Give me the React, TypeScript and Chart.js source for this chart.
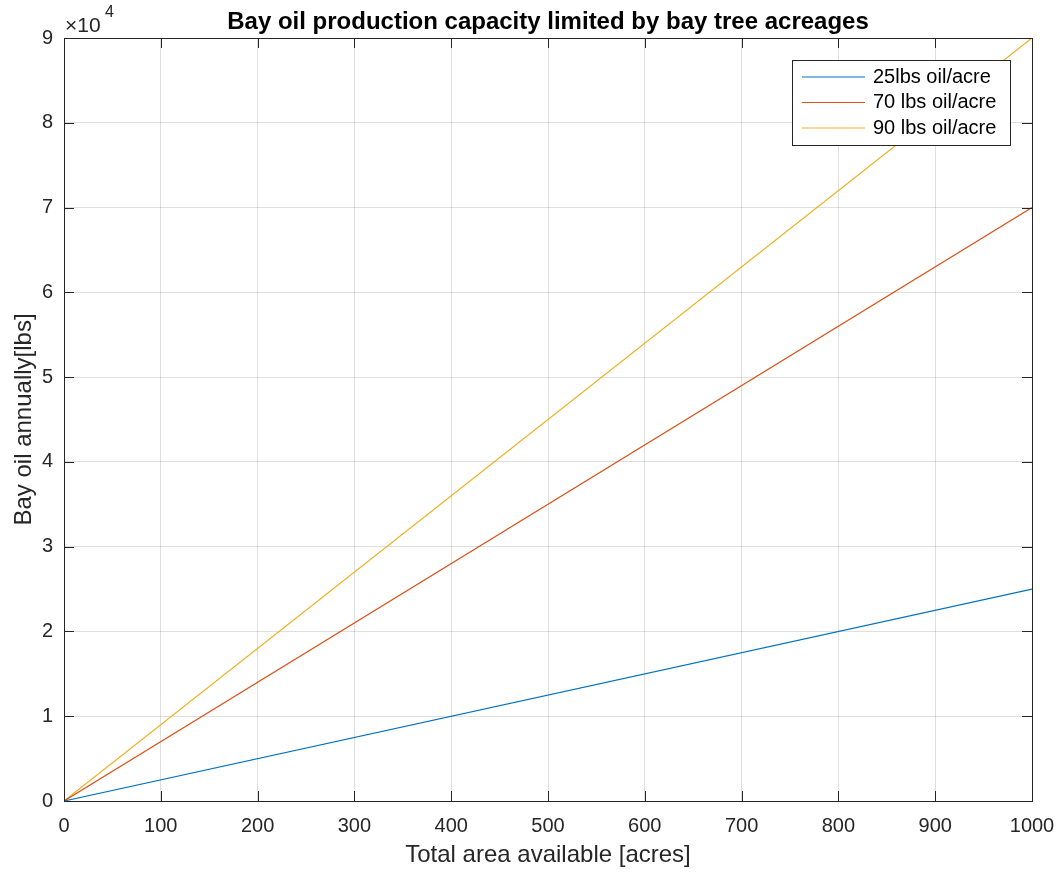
import React, { useEffect, useRef } from "react";
import { Chart, registerables } from "chart.js";

Chart.register(...registerables);

const areaAcres = [0, 1000];
const oil25 = [0, 25000];
const oil70 = [0, 70000];
const oil90 = [0, 90000];
const seriesLabels = ["25lbs oil/acre", "70 lbs oil/acre", "90 lbs oil/acre"];
const seriesColors = ["#0072BD", "#D95319", "#EDB120"];
const titleText = "Bay oil production capacity limited by bay tree acreages";
const xTitle = "Total area available [acres]";
const yTitle = "Bay oil annually[lbs]";

const FONT = '"Liberation Sans", Helvetica, Arial, sans-serif';
const AX = "#262626";

const decorPlugin = {
  id: "decor",
  afterDraw(chart: any) {
    const ctx = chart.ctx as CanvasRenderingContext2D;
    const { left, right, top, bottom } = chart.chartArea;
    const xs = chart.scales.x;
    const ys = chart.scales.y;
    ctx.save();
    // box
    ctx.strokeStyle = AX;
    ctx.lineWidth = 1;
    ctx.strokeRect(Math.round(left) + 0.5, Math.round(top) + 0.5, Math.round(right - left), Math.round(bottom - top));
    // inward ticks
    const tl = 10;
    ctx.beginPath();
    xs.ticks.forEach((t: any) => {
      const px = Math.round(xs.getPixelForValue(t.value)) + 0.5;
      ctx.moveTo(px, bottom);
      ctx.lineTo(px, bottom - tl);
      ctx.moveTo(px, top);
      ctx.lineTo(px, top + tl);
    });
    ys.ticks.forEach((t: any) => {
      const py = Math.round(ys.getPixelForValue(t.value)) + 0.5;
      ctx.moveTo(left, py);
      ctx.lineTo(left + tl, py);
      ctx.moveTo(right, py);
      ctx.lineTo(right - tl, py);
    });
    ctx.stroke();

    // title
    ctx.fillStyle = "#000";
    ctx.font = `bold 24px ${FONT}`;
    ctx.textAlign = "center";
    ctx.textBaseline = "alphabetic";
    ctx.fillText(titleText, (left + right) / 2, 29);

    // axis titles
    ctx.fillStyle = AX;
    ctx.font = `24px ${FONT}`;
    ctx.fillText(xTitle, (left + right) / 2, 862);
    ctx.save();
    ctx.translate(31, (top + bottom) / 2);
    ctx.rotate(-Math.PI / 2);
    ctx.fillText(yTitle, 0, 0);
    ctx.restore();

    // exponent
    ctx.textAlign = "left";
    ctx.font = `21px ${FONT}`;
    ctx.fillText("\u00d710", left + 1, 32);
    ctx.font = `16px ${FONT}`;
    ctx.fillText("4", left + 41, 17);

    // legend
    const bx = 792, by = 60, bw = 218, bh = 85;
    ctx.fillStyle = "#fff";
    ctx.fillRect(bx, by, bw, bh);
    ctx.strokeStyle = AX;
    ctx.lineWidth = 1;
    ctx.strokeRect(bx + 0.5, by + 0.5, bw, bh);
    ctx.font = `20px ${FONT}`;
    ctx.textBaseline = "middle";
    seriesLabels.forEach((lab, i) => {
      const cy = 77 + i * 25.5;
      ctx.strokeStyle = seriesColors[i];
      ctx.lineWidth = 1.2;
      ctx.beginPath();
      ctx.moveTo(802, cy);
      ctx.lineTo(865, cy);
      ctx.stroke();
      ctx.fillStyle = "#000";
      ctx.fillText(lab, 873, cy);
    });
    ctx.restore();
  },
};

export default function App() {
  const ref = useRef<HTMLCanvasElement>(null);
  useEffect(() => {
    document.body.style.margin = "0";
    const mk = (data: number[]) => areaAcres.map((x, i) => ({ x, y: data[i] }));
    const chart = new Chart(ref.current!, {
      type: "line",
      data: {
        datasets: [
          { label: seriesLabels[0], data: mk(oil25), borderColor: seriesColors[0], borderWidth: 1.2, pointRadius: 0 },
          { label: seriesLabels[1], data: mk(oil70), borderColor: seriesColors[1], borderWidth: 1.2, pointRadius: 0 },
          { label: seriesLabels[2], data: mk(oil90), borderColor: seriesColors[2], borderWidth: 1.2, pointRadius: 0 },
        ],
      },
      options: {
        responsive: false,
        animation: false,
        devicePixelRatio: 1,
        layout: { padding: { top: 38, right: 30, left: 0, bottom: 0 } },
        plugins: { legend: { display: false }, title: { display: false }, tooltip: { enabled: false } },
        scales: {
          x: {
            type: "linear",
            min: 0,
            max: 1000,
            afterFit(s: any) { s.height = 71; s.paddingLeft = 0; s.paddingRight = 0; },
            ticks: { stepSize: 100, color: AX, padding: 13, maxRotation: 0, font: { family: FONT, size: 20 }, callback: (v: any) => String(v) },
            grid: { color: "rgba(38,38,38,0.15)", drawTicks: false },
            border: { display: false },
          },
          y: {
            type: "linear",
            min: 0,
            max: 90000,
            afterFit(s: any) { s.width = 64; s.paddingTop = 0; s.paddingBottom = 0; },
            ticks: { stepSize: 10000, color: AX, padding: 11, font: { family: FONT, size: 20 }, callback: (v: any) => String(Number(v) / 10000) },
            grid: { color: "rgba(38,38,38,0.15)", drawTicks: false },
            border: { display: false },
          },
        },
      },
      plugins: [decorPlugin],
    } as any);
    return () => chart.destroy();
  }, []);
  return (
    <div style={{ position: "absolute", left: 0, top: 0, width: 1062, height: 872, background: "#fff" }}>
      <canvas ref={ref} width={1062} height={872} />
    </div>
  );
}
